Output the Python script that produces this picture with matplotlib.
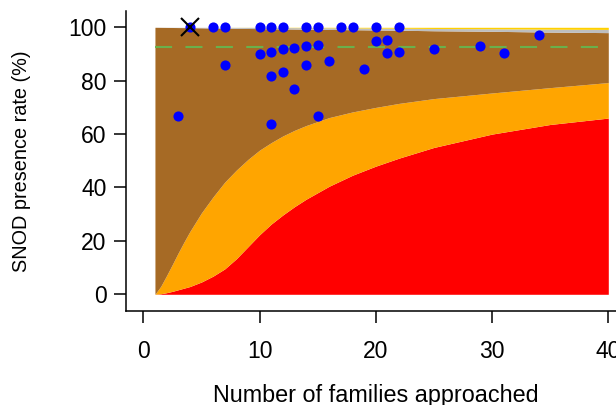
import matplotlib
matplotlib.use("Agg")
import matplotlib.pyplot as plt

plt.rcParams['font.family'] = ['Liberation Sans', 'DejaVu Sans']

# ---- data ----
x_grid = [1, 1.5, 2, 2.5, 3, 3.5, 4, 5, 6, 7, 8, 9, 10, 11, 12, 13, 14, 16, 18, 20, 22,
          25, 30, 35, 40]
red_top = [0, 0.2, 0.6, 1.1, 1.7, 2.3, 2.9, 4.6, 6.8, 9.5, 13.3, 17.8, 22.3, 26.3, 29.7,
           32.8, 35.6, 40.5, 44.6, 48.0, 51.0, 55.0, 60.0, 63.6, 66.0]
orange_top = [0, 3.0, 7.0, 11.2, 15.5, 19.6, 23.5, 30.5, 36.5, 42.0, 46.5, 50.5, 54.0,
              56.8, 59.3, 61.4, 63.2, 66.2, 68.3, 70.0, 71.5, 73.3, 75.4, 77.4, 79.3]
brown_top = [100, 99.98, 99.95, 99.92, 99.9, 99.88, 99.85, 99.8, 99.7, 99.65, 99.6, 99.55,
             99.5, 99.45, 99.4, 99.35, 99.3, 99.2, 99.1, 99.0, 98.9, 98.7, 98.5, 98.2, 98.0]
gray_top = [100, 100, 100, 100, 100, 100, 100, 100, 99.99, 99.98, 99.97, 99.96, 99.95,
            99.93, 99.9, 99.88, 99.85, 99.8, 99.75, 99.7, 99.65, 99.55, 99.45, 99.3, 99.2]
yellow_top = 100

pts_x = [4, 6, 7, 10, 11, 12, 14, 15, 17, 18, 20, 22,
         20, 21, 15, 14, 13, 12, 11, 10, 21, 22, 7, 14, 16, 19, 11, 12, 13,
         3, 11, 15, 25, 29, 31, 34]
pts_y = [100, 100, 100, 100, 100, 100, 100, 100, 100, 100, 100, 100,
         95.0, 95.2, 93.3, 92.9, 92.3, 91.7, 90.9, 90.0, 90.5, 90.9, 85.7, 85.7, 87.5,
         84.2, 81.8, 83.3, 76.9, 66.7, 63.6, 66.7, 92.0, 93.1, 90.3, 97.1]

mean_rate = 92.6
highlight_x = [4]
highlight_y = [100]

x_ticks = [0, 10, 20, 30, 40]
y_ticks = [0, 20, 40, 60, 80, 100]
x_label = "Number of families approached"
y_label = "SNOD presence rate (%)"

# ---- figure ----
W, H = 616, 405
fig = plt.figure(figsize=(W / 100, H / 100), dpi=100)
ax = fig.add_axes([126 / W, (H - 311.3) / H, 500.9 / W, 300.3 / H])
ax.set_xlim(-1.49, 41.6)
ax.set_ylim(-6.37, 106.1)

ax.fill_between(x_grid, 0, red_top, color='#FF0000', lw=0)
ax.fill_between(x_grid, red_top, orange_top, color='#FFA500', lw=0)
ax.fill_between(x_grid, orange_top, brown_top, color='#A66A25', lw=0)
ax.fill_between(x_grid, brown_top, gray_top, color='#BEBEBE', lw=0)
ax.fill_between(x_grid, gray_top, yellow_top, color='#FFD000', lw=0)

ax.plot([x_grid[0], x_grid[-1]], [mean_rate, mean_rate], color='#6AB04C', lw=1.5,
        dashes=(8.2, 6.4), zorder=3)

ax.plot(pts_x, pts_y, 'o', color='#0000FF', ms=7.3, mec='none', zorder=4)
ax.plot(highlight_x, highlight_y, 'x', color='black', ms=12.5, mew=1.5, zorder=5)

for s in ['top', 'right']:
    ax.spines[s].set_visible(False)
for s in ['left', 'bottom']:
    ax.spines[s].set_linewidth(1.1)
    ax.spines[s].set_capstyle('projecting')

ax.set_xticks(x_ticks)
ax.set_yticks(y_ticks)
ax.tick_params(axis='both', length=8.6, width=1.1, labelsize=16.5, colors='black')
ax.tick_params(axis='x', pad=12)
ax.tick_params(axis='y', pad=5.5)

fig.text(376 / W, (H - 401.7) / H, x_label, ha='center', va='baseline', fontsize=16.8)
fig.text(22 / W, (H - 161.5) / H, y_label, ha='center', va='center', rotation=90,
         fontsize=14.3)

fig.savefig('out.png', dpi=100)
